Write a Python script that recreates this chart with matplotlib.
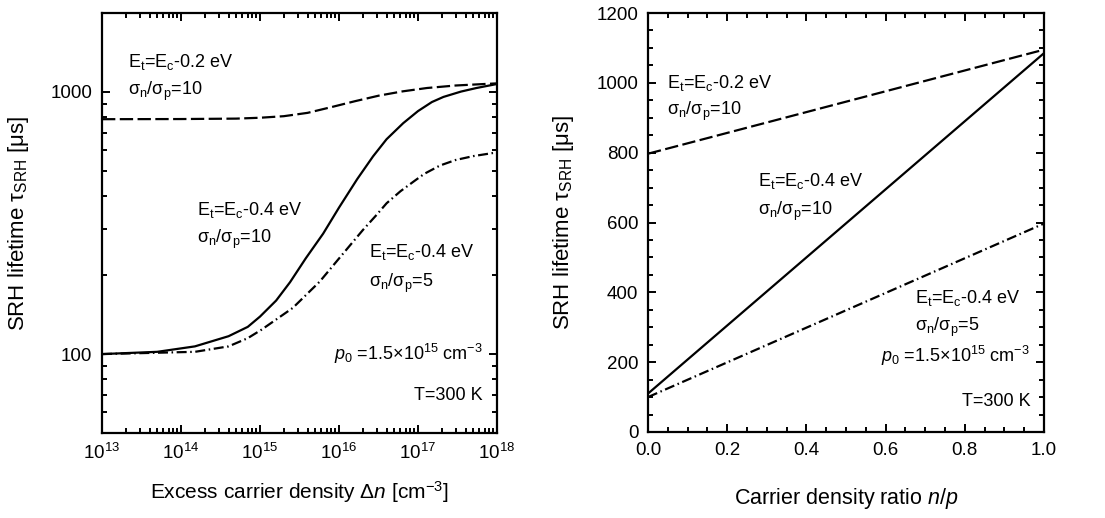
import numpy as np
import matplotlib
matplotlib.use('Agg')
import matplotlib.pyplot as plt
from matplotlib.ticker import LogLocator, FixedLocator, MultipleLocator, NullFormatter, FuncFormatter

plt.rcParams['font.family'] = ['Liberation Sans', 'DejaVu Sans']
plt.rcParams['mathtext.fontset'] = 'custom'
plt.rcParams['mathtext.rm'] = 'Liberation Sans'
plt.rcParams['mathtext.it'] = 'Liberation Sans:italic'
plt.rcParams['mathtext.bf'] = 'Liberation Sans:bold'

# left panel: lifetime vs excess carrier density
dn_solid = [1e13, 5e13, 1.5e14, 4e14, 7e14, 1e15, 1.6e15, 2.4e15, 3.8e15, 6.3e15, 1e16, 1.7e16,
            2.7e16, 4e16, 6.5e16, 1e17, 1.5e17, 2.1e17, 3.5e17, 5.5e17, 1e18]
tau_solid = [100, 102, 107, 117, 127, 139, 160, 188, 232, 288, 362, 465,
             568, 660, 760, 845, 915, 957, 1003, 1035, 1072]

dn_dash = [1e13, 1e14, 5e14, 1e15, 2e15, 4e15, 8e15, 1.6e16, 3.2e16, 6.4e16, 1.3e17, 3e17, 1e18]
tau_dash = [787, 788, 791, 797, 808, 832, 875, 922, 968, 1005, 1035, 1058, 1078]

dn_dd = [1e13, 1.5e14, 4e14, 7e14, 1.05e15, 2.6e15, 5.7e15, 1.03e16, 2e16, 3e16, 4e16,
         6e16, 8.7e16, 1.2e17, 1.9e17, 3e17, 5e17, 1e18]
tau_dd = [100, 102, 107, 115, 124, 150, 189, 234, 297, 340, 376,
          418, 454, 487, 524, 550, 569, 588]

# right panel: lifetime vs n/p
ratio = [0.0, 1.0]
tau_r_dash = [797, 1095]
tau_r_solid = [110, 1085]
tau_r_dd = [100, 597]

lw = 1.6
dash_style = (0, (6.0, 2.0))
dd_style = (0, (4.5, 1.6, 0.7, 1.6))

fig = plt.figure(figsize=(11.05, 5.18), dpi=100)
ax1 = fig.add_axes([102/1105, 1-433/518, 395/1105, 420/518])
ax2 = fig.add_axes([648/1105, 1-432/518, 396/1105, 419/518])

ax1.plot(dn_dash, tau_dash, color='black', lw=lw, linestyle=dash_style)
ax1.plot(dn_solid, tau_solid, color='black', lw=lw)
ax1.plot(dn_dd, tau_dd, color='black', lw=lw, linestyle=dd_style)
ax1.set_xscale('log')
ax1.set_yscale('log')
ax1.set_xlim(1e13, 1e18)
ax1.set_ylim(50, 2000)
ax1.xaxis.set_major_locator(LogLocator(base=10, numticks=10))
ax1.xaxis.set_minor_locator(LogLocator(base=10, subs=np.arange(2, 10), numticks=20))
ax1.xaxis.set_minor_formatter(NullFormatter())
ax1.yaxis.set_major_locator(FixedLocator([100, 1000]))
ax1.yaxis.set_major_formatter(FuncFormatter(lambda v, p: '%d' % v))
ax1.yaxis.set_minor_locator(LogLocator(base=10, subs=np.arange(2, 10), numticks=20))
ax1.yaxis.set_minor_formatter(NullFormatter())

ax2.plot(ratio, tau_r_dash, color='black', lw=lw, linestyle=dash_style)
ax2.plot(ratio, tau_r_solid, color='black', lw=lw)
ax2.plot(ratio, tau_r_dd, color='black', lw=lw, linestyle=dd_style)
ax2.set_xlim(0, 1.0)
ax2.set_ylim(0, 1200)
ax2.xaxis.set_major_locator(MultipleLocator(0.2))
ax2.xaxis.set_minor_locator(MultipleLocator(0.05))
ax2.xaxis.set_major_formatter(FuncFormatter(lambda v, p: '%.1f' % v))
ax2.yaxis.set_major_locator(MultipleLocator(200))
ax2.yaxis.set_minor_locator(MultipleLocator(50))

for ax in (ax1, ax2):
    for s in ax.spines.values():
        s.set_linewidth(1.6)
    ax.tick_params(which='both', direction='in', top=True, right=True, labelsize=13.5, width=1.4)
    ax.tick_params(which='major', length=6, pad=7)
    ax.tick_params(which='minor', length=3.5)

ax1.set_xlabel('Excess carrier density Δ$\\it{n}$ [cm$^{-3}$]', fontsize=15)
ax1.set_ylabel('SRH lifetime τ$_\\mathrm{SRH}$ [μs]', fontsize=16)
ax1.xaxis.set_label_coords(0.5, -0.11)
ax1.yaxis.set_label_coords(-0.18, 0.5)
ax2.set_xlabel('Carrier density ratio $\\it{n/p}$', fontsize=15.5)
ax2.set_ylabel('SRH lifetime τ$_\\mathrm{SRH}$ [μs]', fontsize=16)
ax2.xaxis.set_label_coords(0.5, -0.13)
ax2.yaxis.set_label_coords(-0.182, 0.5)

et02 = 'E$_\\mathrm{t}$=E$_\\mathrm{c}$-0.2 eV'
et04 = 'E$_\\mathrm{t}$=E$_\\mathrm{c}$-0.4 eV'
sig10 = 'σ$_\\mathrm{n}$/σ$_\\mathrm{p}$=10'
sig5 = 'σ$_\\mathrm{n}$/σ$_\\mathrm{p}$=5'
p0txt = '$\\it{p}_\\mathrm{0}$ =1.5×10$^{15}$ cm$^{-3}$'
ttxt = 'T=300 K'
fs = 13

def put(ax, x, y, s, ha='left'):
    ax.text(x, y, s, transform=ax.transAxes, fontsize=fs, ha=ha, va='baseline')

put(ax1, 0.066, 0.872, et02)
put(ax1, 0.066, 0.805, sig10)
put(ax1, 0.24, 0.519, et04)
put(ax1, 0.24, 0.452, sig10)
put(ax1, 0.677, 0.418, et04)
put(ax1, 0.677, 0.347, sig5)
put(ax1, 0.965, 0.174, p0txt, ha='right')
put(ax1, 0.964, 0.079, ttxt, ha='right')

put(ax2, 0.047, 0.821, et02)
put(ax2, 0.047, 0.757, sig10)
put(ax2, 0.279, 0.586, et04)
put(ax2, 0.279, 0.519, sig10)
put(ax2, 0.675, 0.308, et04)
put(ax2, 0.675, 0.240, sig5)
put(ax2, 0.965, 0.168, p0txt, ha='right')
put(ax2, 0.965, 0.061, ttxt, ha='right')

fig.savefig('out.png', dpi=100)
